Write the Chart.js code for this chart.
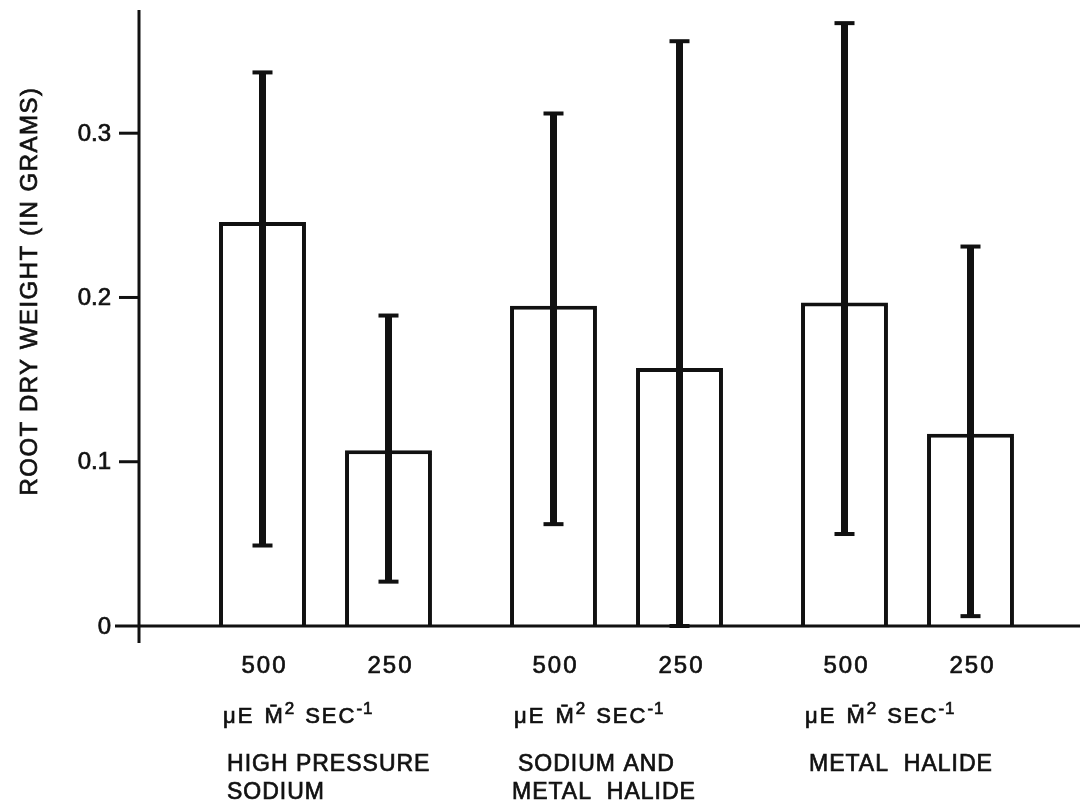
<!DOCTYPE html>
<html>
<head>
<meta charset="utf-8">
<script src="https://cdn.jsdelivr.net/npm/chart.js@4.4.1/dist/chart.umd.min.js"></script>
<style>
  html, body { margin: 0; padding: 0; background: #fff; }
</style>
</head>
<body>
<canvas id="chart" width="1080" height="808"></canvas>
<script>
// lamp types, each shown at two light intensities
const groups = [
    ["HIGH PRESSURE", "SODIUM"],
    ["SODIUM AND", "METAL  HALIDE"],
    ["METAL  HALIDE"]
];
const intensities = ["500", "250"];

// mean root dry weight (grams)
const mean500 = [0.246, 0.195, 0.197];
const mean250 = [0.107, 0.157, 0.117];

// error bar ends
const high500 = [0.337, 0.312, 0.367];
const low500 = [0.049, 0.062, 0.056];
const high250 = [0.189, 0.356, 0.231];
const low250 = [0.027, 0.0, 0.006];

const yTicks = [0, 0.1, 0.2, 0.3];
const yTickLabels = ["0", "0.1", "0.2", "0.3"];

const ink = "#111";
const font = "'Liberation Sans', Arial, sans-serif";

const errHigh = [high500, high250];
const errLow = [low500, low250];

// fill plus a thin stroke, the printed type is a bit heavier than regular
function inkText(ctx, s, x, y) {
    ctx.fillText(s, x, y);
    ctx.lineWidth = 0.7;
    ctx.strokeText(s, x, y);
}

const extrasPlugin = {
    id: "extras",
    afterDatasetsDraw(chart) {
        const ctx = chart.ctx;
        const y = chart.scales.y;
        ctx.save();
        ctx.fillStyle = ink;
        for (let d = 0; d < chart.data.datasets.length; d++) {
            const meta = chart.getDatasetMeta(d);
            meta.data.forEach(function (bar, j) {
                const yh = y.getPixelForValue(errHigh[d][j]);
                const yl = y.getPixelForValue(errLow[d][j]);
                ctx.fillRect(bar.x - 3.5, yh, 7, yl - yh);
                ctx.fillRect(bar.x - 10, yh - 2, 20, 4);
                ctx.fillRect(bar.x - 10, yl - 2, 20, 4);
            });
        }
        ctx.restore();
    },
    afterDraw(chart) {
        const ctx = chart.ctx;
        const area = chart.chartArea;
        const y = chart.scales.y;
        const axisX = area.left - 41;
        const zeroY = y.getPixelForValue(0);
        ctx.save();
        ctx.strokeStyle = ink;
        ctx.fillStyle = ink;
        ctx.lineWidth = 3;

        // axes
        ctx.beginPath();
        ctx.moveTo(axisX, area.top);
        ctx.lineTo(axisX, zeroY + 17);
        ctx.moveTo(axisX - 24, zeroY);
        ctx.lineTo(chart.width, zeroY);
        ctx.stroke();

        // y ticks and labels
        ctx.font = "24px " + font;
        ctx.textAlign = "right";
        ctx.textBaseline = "middle";
        yTicks.forEach(function (v, i) {
            const py = y.getPixelForValue(v);
            if (v > 0) {
                ctx.lineWidth = 3;
                ctx.beginPath();
                ctx.moveTo(axisX - 20, py);
                ctx.lineTo(axisX, py);
                ctx.stroke();
            }
            inkText(ctx, yTickLabels[i], axisX - 28, py + 1);
        });

        // y title
        ctx.save();
        ctx.translate(30, 291);
        ctx.rotate(-Math.PI / 2);
        ctx.textAlign = "center";
        ctx.textBaseline = "middle";
        ctx.font = "24px " + font;
        ctx.letterSpacing = "1.5px";
        inkText(ctx, "ROOT DRY WEIGHT (IN GRAMS)", 0, 0);
        ctx.restore();

        // intensity labels under each bar
        ctx.textAlign = "center";
        ctx.textBaseline = "alphabetic";
        ctx.font = "24px " + font;
        ctx.letterSpacing = "2px";
        for (let d = 0; d < 2; d++) {
            chart.getDatasetMeta(d).data.forEach(function (bar) {
                inkText(ctx, intensities[d], bar.x + 2, 673);
            });
        }

        // units line and group names, left aligned at first bar of group
        ctx.textAlign = "left";
        const first = chart.getDatasetMeta(0).data;
        first.forEach(function (bar, g) {
            const left = bar.x - bar.width / 2;
            let x = left + 4;
            const base = 723;
            ctx.letterSpacing = "2px";
            ctx.font = "22px " + font;
            inkText(ctx, "\u03bcE", x, base);
            x += ctx.measureText("\u03bcE").width + 10;
            inkText(ctx, "M\u0304", x, base);
            x += ctx.measureText("M").width;
            ctx.font = "17px " + font;
            ctx.letterSpacing = "1px";
            inkText(ctx, "2", x, base - 9);
            x += ctx.measureText("2").width + 10;
            ctx.font = "22px " + font;
            ctx.letterSpacing = "2px";
            inkText(ctx, "SEC", x, base);
            x += ctx.measureText("SEC").width;
            ctx.font = "17px " + font;
            ctx.letterSpacing = "1px";
            inkText(ctx, "-1", x, base - 9);

            ctx.font = "23px " + font;
            ctx.letterSpacing = "1px";
            groups[g].forEach(function (line, k) {
                const lx = (g === 1 && k === 1) ? left + 2 : left + 8;
                inkText(ctx, line, lx, 771 + k * 28);
            });
        });
        ctx.restore();
    }
};

new Chart(document.getElementById("chart"), {
    type: "bar",
    data: {
        labels: groups,
        datasets: [{
            label: "500",
            data: mean500,
            backgroundColor: "#fff",
            borderColor: ink,
            borderWidth: 4,
            categoryPercentage: 0.866,
            barPercentage: 0.69
        }, {
            label: "250",
            data: mean250,
            backgroundColor: "#fff",
            borderColor: ink,
            borderWidth: 4,
            categoryPercentage: 0.866,
            barPercentage: 0.69
        }]
    },
    options: {
        responsive: false,
        animation: false,
        layout: { padding: { left: 180, right: 27, top: 10, bottom: 182 } },
        scales: {
            x: { display: false },
            y: { display: false, min: 0, max: 0.375 }
        },
        plugins: {
            legend: { display: false },
            tooltip: { enabled: false }
        }
    },
    plugins: [extrasPlugin]
});
</script>
</body>
</html>
